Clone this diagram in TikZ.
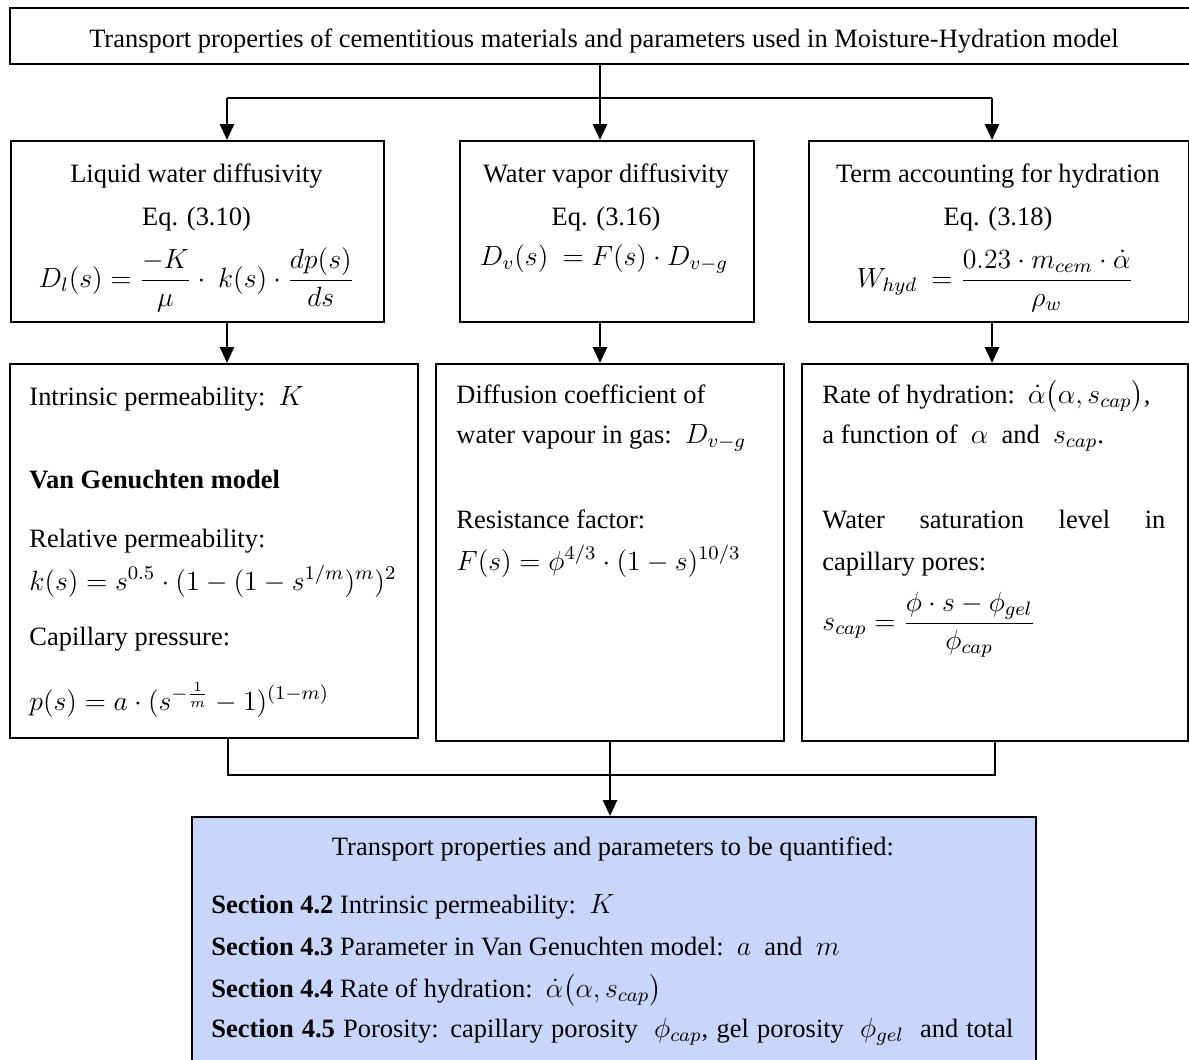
\documentclass[tikz,border=0pt]{standalone}
\usepackage{fix-cm}
\usepackage{amsmath}
\usepackage{fontspec}
\setmainfont{Liberation Serif}
\DeclareMathSizes{12}{12.6}{8.8}{6.3}
\usetikzlibrary{arrows.meta}
\newlength\pxu
\setlength\pxu{0.4534pt}
\definecolor{resultfill}{RGB}{201,214,251}
\begin{document}
\begin{tikzpicture}[x=\pxu, y=-\pxu,
  box/.style={draw, line width=0.9pt, inner sep=0pt, anchor=north west},
  conn/.style={line width=1.2pt},
  arr/.style={conn, -{Triangle[width=6.3pt,length=7.2pt]}},
  txt/.style={inner sep=0pt, anchor=base, font=\fontsize{12}{14}\selectfont},
  ltxt/.style={txt, anchor=base west},
]
\useasboundingbox (0,0) rectangle (1189,1059);
\clip (0,0) rectangle (1189,1059);

% boxes
\node[box, minimum width=1205*\pxu, minimum height=56*\pxu]  (top) at (9,7) {};
\node[box, minimum width=373*\pxu,  minimum height=181*\pxu] (b1)  at (10,140) {};
\node[box, minimum width=294*\pxu,  minimum height=181*\pxu] (b2)  at (459,140) {};
\node[box, minimum width=380*\pxu,  minimum height=181*\pxu] (b3)  at (808,140) {};
\node[box, minimum width=408*\pxu,  minimum height=374*\pxu] (c1)  at (9,363) {};
\node[box, minimum width=348*\pxu,  minimum height=377*\pxu] (c2)  at (435,363) {};
\node[box, minimum width=386*\pxu,  minimum height=377*\pxu] (c3)  at (801,363) {};
\node[box, fill=resultfill, minimum width=844*\pxu, minimum height=280*\pxu] (res) at (191,816) {};

% connectors: top box to first row
\coordinate (mid)    at (600,98);
\coordinate (splitL) at (227,98);
\coordinate (splitR) at (992,98);
\draw[arr]  (top.south -| mid) -- (b2.north -| mid);
\draw[conn] (splitL) -- (splitR);
\draw[arr]  (splitL) -- (b1.north -| splitL);
\draw[arr]  (splitR) -- (b3.north -| splitR);

% first row to second row
\draw[arr] (b1.south -| splitL) -- (c1.north -| splitL);
\draw[arr] (b2.south -| mid)    -- (c2.north -| mid);
\draw[arr] (b3.south -| splitR) -- (c3.north -| splitR);

% second row merged into the result box
\coordinate (jL) at (228,775);
\coordinate (jM) at (610,775);
\coordinate (jR) at (995,775);
\draw[conn] (c1.south -| jL) -- (jL) -- (jR) -- (c3.south -| jR);
\draw[conn] (c2.south -| jM) -- (jM);
\draw[arr]  (jM) -- (res.north -| jM);

% texts
\node[txt] (topT) at (604,47) {Transport properties of cementitious materials and parameters used in Moisture-Hydration model};

\node[txt] (b1a) at (196.5,182) {Liquid water diffusivity};
\node[txt] (b1b) at (196.5,225) {Eq. (3.10)};
\node[txt] (b1c) at (196.5,287) {$D_l(s) = \dfrac{-K}{\mu}\cdot\ k(s)\cdot\dfrac{dp(s)}{ds}$};

\node[txt] (b2a) at (606,182) {Water vapor diffusivity};
\node[txt] (b2b) at (606,225) {Eq. (3.16)};
\node[txt] (b2c) at (604,265) {$D_v(s)\ = F(s)\cdot D_{v-g}$};

\node[txt] (b3a) at (998,182) {Term accounting for hydration};
\node[txt] (b3b) at (998,225) {Eq. (3.18)};
\node[txt] (b3c) at (995,287) {$W_{hyd}\ = \dfrac{0.23\cdot m_{cem}\cdot\dot{\alpha}}{\rho_w}$};

\node[ltxt] (c1a) at (29,405) {Intrinsic permeability:\ \ $K$};
\node[ltxt] (c1b) at (29,488) {\bfseries Van Genuchten model};
\node[ltxt] (c1c) at (29,547) {Relative permeability:};
\node[ltxt] (c1d) at (29,590) {$k(s) = s^{0.5}\cdot(1-(1-s^{1/m})^m)^2$};
\node[ltxt] (c1e) at (29,645) {Capillary pressure:};
\node[ltxt] (c1f) at (29,710) {$p(s) = a\cdot(s^{-\frac{1}{m}}-1)^{(1-m)}$};

\node[ltxt] (c2a) at (456,403) {Diffusion coefficient of};
\node[ltxt] (c2b) at (456,443) {water vapour in gas:\ \ $D_{v-g}$};
\node[ltxt] (c2c) at (456,528) {Resistance factor:};
\node[ltxt] (c2d) at (456,570) {$F(s) = \phi^{4/3}\cdot(1-s)^{10/3}$};

\node[ltxt] (c3a) at (822,403) {Rate of hydration:\ \ $\dot{\alpha}\bigl(\alpha, s_{cap}\bigr)$,};
\node[ltxt] (c3b) at (822,443) {a function of\ \ $\alpha$\ \ and\ \ $s_{cap}$.};
\node[ltxt] (c3c) at (822,528) {\makebox[343\pxu][s]{Water saturation level in}};
\node[ltxt] (c3d) at (822,570) {capillary pores:};
\node[ltxt] (c3e) at (822,630) {$s_{cap} = \dfrac{\phi\cdot s-\phi_{gel}}{\phi_{cap}}$};

\node[txt]  (resT) at (613,855) {Transport properties and parameters to be quantified:};
\node[ltxt] (r2) at (211,913)  {\textbf{Section 4.2} Intrinsic permeability:\ \ $K$};
\node[ltxt] (r3) at (211,955)  {\textbf{Section 4.3} Parameter in Van Genuchten model:\ \ $a$\ \ and\ \ $m$};
\node[ltxt] (r4) at (211,997)  {\textbf{Section 4.4} Rate of hydration:\ \ $\dot{\alpha}\bigl(\alpha, s_{cap}\bigr)$};
\node[ltxt] (r5) at (211,1037) {\makebox[802\pxu][s]{\textbf{Section 4.5} Porosity: capillary porosity\ \ $\phi_{cap}$, gel porosity\ \ $\phi_{gel}$\ \ and total}};
\end{tikzpicture}
\end{document}
